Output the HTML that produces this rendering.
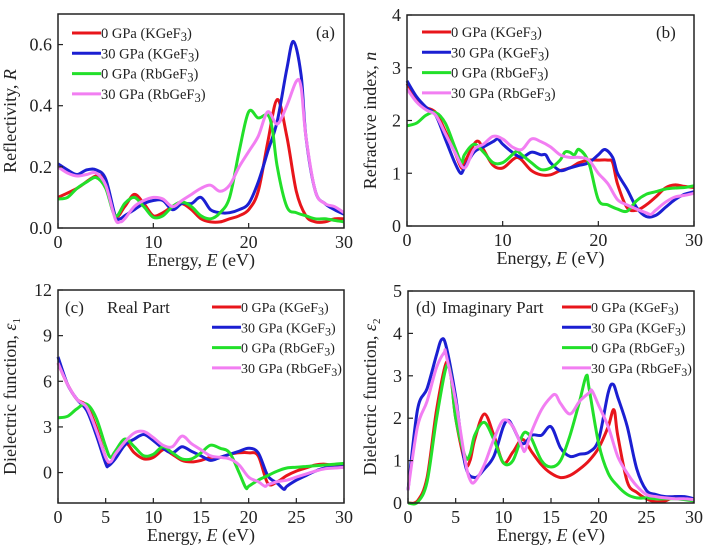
<!DOCTYPE html>
<html><head><meta charset="utf-8"><style>
body{margin:0;background:#fff;}
svg{font-family:"Liberation Serif",serif;}
</style></head><body>
<svg id="c" width="708" height="550" xmlns="http://www.w3.org/2000/svg"></svg>
<script>
const SERIES_NAMES=["0 GPa (KGeF","30 GPa (KGeF","0 GPa (RbGeF","30 GPa (RbGeF"];
const COLORS=["#e8151b","#1b1fd2","#22e02a","#f27ef2"];
// (a) Reflectivity
const aRed=[[0,.10],[2,.13],[4,.17],[5,.15],[6,.04],[7,.07],[8,.11],[9,.08],[10,.04],[11,.05],[12,.07],[13,.08],[14,.06],[15,.03],[16,.02],[17,.02],[18,.03],[19,.04],[20,.06],[21,.12],[22,.28],[23,.42],[24,.30],[25,.12],[26,.04],[27,.02],[28,.02],[29,.03],[30,.03]];
const aBlue=[[0,.21],[1,.19],[2,.175],[3,.19],[4,.19],[5,.16],[6,.04],[6.5,.03],[7,.04],[8,.06],[9,.08],[10,.09],[11,.09],[12,.06],[13,.08],[14,.08],[15,.10],[16,.06],[17,.05],[18,.05],[19,.06],[20,.08],[21,.15],[22,.25],[23,.35],[24,.52],[24.7,.61],[25.5,.50],[26,.30],[27,.12],[28,.08],[29,.06],[30,.045]];
const aGreen=[[0,.095],[1,.10],[2,.13],[3,.15],[4,.165],[5,.13],[6,.04],[7,.08],[8,.10],[9,.07],[10,.035],[11,.04],[12,.07],[13,.085],[14,.07],[15,.04],[16,.03],[17,.05],[18,.10],[19,.25],[20,.38],[21,.36],[22,.37],[22.5,.32],[23,.20],[24,.07],[25,.05],[26,.04],[27,.03],[28,.03],[29,.025],[30,.02]];
const aPink=[[0,.20],[1,.18],[2,.17],[3,.175],[4,.18],[5,.14],[6,.03],[6.5,.02],[7,.03],[8,.07],[9,.09],[10,.10],[11,.095],[12,.07],[13,.09],[14,.11],[15,.13],[16,.14],[17,.12],[18,.14],[19,.20],[20,.25],[21,.30],[22,.38],[23,.34],[24,.40],[25,.48],[25.5,.46],[26,.30],[27,.12],[28,.08],[29,.07],[30,.05]];
// (b) Refractive index
const bRed=[[0,2.7],[1,2.4],[2,2.25],[3,2.15],[4,1.8],[5,1.4],[5.7,1.1],[6,1.2],[7,1.55],[7.5,1.6],[8,1.45],[9,1.15],[10,1.1],[11,1.25],[11.5,1.3],[12,1.25],[13,1.05],[14,.97],[15,.97],[16,1.05],[17,1.1],[18,1.2],[19,1.25],[20,1.25],[21,1.25],[21.5,1.2],[22,.8],[23,.35],[24,.3],[25,.4],[26,.55],[27,.72],[28,.78],[29,.75],[30,.73]];
const bBlue=[[0,2.75],[1,2.45],[2,2.25],[3,2.1],[4,1.65],[5,1.2],[5.6,1.0],[6,1.1],[7,1.4],[8,1.5],[9,1.6],[9.5,1.65],[10,1.55],[11,1.4],[12,1.3],[13,1.4],[14,1.35],[14.5,1.35],[15,1.2],[16,1.05],[17,1.1],[18,1.15],[19,1.2],[20,1.35],[20.7,1.45],[21.5,1.3],[22,1.0],[23,.7],[24,.35],[25,.18],[26,.2],[27,.35],[28,.5],[29,.6],[30,.65]];
const bGreen=[[0,1.9],[1,1.95],[2,2.1],[3,2.15],[4,1.95],[5,1.5],[5.7,1.2],[6,1.35],[7,1.55],[8,1.4],[9,1.2],[10,1.2],[11,1.35],[11.5,1.42],[12,1.35],[13,1.2],[14,1.07],[15,1.1],[16,1.25],[16.5,1.4],[17,1.4],[17.5,1.35],[18,1.45],[19,1.2],[20,.5],[21,.4],[22,.32],[23,.28],[24,.48],[25,.6],[26,.65],[27,.7],[28,.72],[29,.73],[30,.76]];
const bPink=[[0,2.6],[1,2.35],[2,2.2],[3,2.1],[4,1.75],[5,1.4],[6,1.1],[7,1.45],[8,1.55],[9,1.7],[10,1.65],[11,1.5],[12,1.45],[13,1.65],[14,1.6],[15,1.5],[16,1.35],[17,1.3],[18,1.3],[19,1.25],[20,1.0],[21,.8],[22,.5],[23,.4],[24,.32],[25,.25],[25.5,.22],[26,.3],[27,.45],[28,.55],[29,.58],[30,.62]];
// (c) Real part
const cRed=[[0,7.2],[1,5.8],[2,4.8],[3,4.4],[4,3.0],[5,1.0],[5.5,.6],[6,1.2],[7,2.0],[8,1.3],[9,.9],[10,1.0],[11,1.5],[11.5,1.4],[12,1.2],[13,.8],[14,.7],[15,.8],[16,1.0],[17,1.0],[18,1.2],[19,1.3],[20,1.3],[21,1.1],[22,-.7],[23,-.6],[24,-.2],[25,.1],[26,.3],[27,.5],[28,.55],[29,.45],[30,.4]];
const cBlue=[[0,7.6],[1,5.8],[2,4.8],[3,4.1],[4,2.5],[5,.6],[5.3,.45],[6,.9],[7,1.8],[8,2.2],[9,2.5],[10,2.1],[11,1.6],[12,1.3],[13,1.7],[14,1.4],[15,1.1],[16,.8],[17,1.0],[18,1.2],[19,1.4],[20,1.6],[21,1.3],[22,-.2],[23,-.7],[23.7,-1.1],[24,-.9],[25,-.5],[26,-.2],[27,.1],[28,.3],[29,.35],[30,.4]];
const cGreen=[[0,3.6],[1,3.7],[2,4.2],[3,4.5],[4,3.6],[5,1.7],[5.5,1.0],[6,1.4],[7,2.2],[8,1.7],[9,1.1],[10,1.2],[11,1.7],[12,1.3],[13,.9],[14,.9],[15,1.3],[16,1.8],[17,1.6],[18,1.3],[19,0],[19.7,-1.0],[20,-.9],[21,-.5],[22,-.2],[23,.1],[24,.3],[25,.35],[26,.4],[27,.45],[28,.5],[29,.55],[30,.6]];
const cPink=[[0,7.2],[1,5.8],[2,4.8],[3,4.3],[4,2.8],[5,1.0],[5.5,.7],[6,1.2],[7,2.0],[8,2.6],[9,2.7],[10,2.3],[11,1.8],[12,1.7],[13,2.4],[14,1.9],[15,1.5],[16,1.1],[17,1.0],[18,.9],[19,.5],[20,-.3],[21,-.6],[21.7,-.9],[22,-.8],[23,-.6],[24,-.5],[25,-.3],[26,-.1],[27,.1],[28,.25],[29,.3],[30,.35]];
// (d) Imaginary part
const dRed=[[0,0],[1,.05],[2,.6],[3,2.2],[4,3.3],[4.5,3.0],[5,2.0],[6,.95],[6.5,1.0],[7,1.5],[8,2.1],[9,1.6],[10,.95],[11,1.2],[12,1.5],[13,1.2],[14,.9],[15,.7],[16,.6],[17,.65],[18,.8],[19,1.0],[20,1.3],[21,1.8],[21.6,2.2],[22,1.6],[23,.5],[24,.25],[25,.1],[26,.03],[27,.05],[28,.15],[29,.1],[30,.05]];
const dBlue=[[0,.3],[1,2.2],[2,2.7],[3,3.5],[3.5,3.85],[4,3.7],[5,2.5],[6,.9],[7,.6],[8,.8],[9,1.1],[10,1.8],[10.5,1.95],[11,1.8],[12,1.4],[13,1.6],[14,1.6],[15,1.8],[16,1.3],[17,1.1],[18,1.15],[19,1.2],[20,1.5],[21,2.6],[21.5,2.8],[22,2.5],[23,1.8],[24,.8],[25,.3],[26,.2],[27,.15],[28,.15],[29,.15],[30,.1]];
const dGreen=[[0,0],[1,.02],[2,.5],[3,2.0],[4,3.2],[4.5,3.0],[5,2.0],[6,1.1],[6.5,1.15],[7,1.6],[8,1.9],[9,1.5],[10,.95],[11,1.0],[12,1.6],[12.5,1.65],[13,1.5],[14,1.0],[15,.85],[16,1.0],[17,1.6],[18,2.4],[18.7,3.0],[19,2.7],[20,1.4],[21,.7],[22,.4],[23,.2],[24,.12],[25,.12],[26,.1],[27,.1],[28,.1],[29,.08],[30,.05]];
const dPink=[[0,.3],[1,1.8],[2,2.4],[3,3.2],[3.8,3.55],[4,3.5],[5,2.4],[6,1.0],[6.5,.55],[7,.5],[8,.9],[9,1.5],[10,1.95],[11,1.8],[12,1.3],[12.3,1.25],[13,1.7],[14,2.2],[15,2.5],[15.5,2.55],[16,2.35],[17,2.1],[18,2.4],[19,2.6],[19.3,2.65],[20,2.3],[21,1.8],[22,1.1],[23,.7],[24,.4],[25,.2],[26,.15],[27,.12],[28,.1],[29,.1],[30,.08]];
const xTicksAB=[0,10,20,30];
const xTicksCD=[0,5,10,15,20,25,30];
const aYTicks=[0,0.2,0.4,0.6];
const bYTicks=[0,1,2,3,4];
const cYTicks=[0,3,6,9,12];
const dYTicks=[0,1,2,3,4,5];

const NS="http://www.w3.org/2000/svg";
const svg=document.getElementById('c');
function mk(tag,attrs,parent){const e=document.createElementNS(NS,tag);for(const k in attrs)e.setAttribute(k,attrs[k]);(parent||svg).appendChild(e);return e;}
function pathD(pts){let d="M"+pts[0][0].toFixed(1)+","+pts[0][1].toFixed(1);
 for(let i=0;i<pts.length-1;i++){const p0=pts[i-1]||pts[i],p1=pts[i],p2=pts[i+1],p3=pts[i+2]||p2;
 const c1=[p1[0]+(p2[0]-p0[0])/6,p1[1]+(p2[1]-p0[1])/6],c2=[p2[0]-(p3[0]-p1[0])/6,p2[1]-(p3[1]-p1[1])/6];
 d+=" C"+c1[0].toFixed(1)+","+c1[1].toFixed(1)+" "+c2[0].toFixed(1)+","+c2[1].toFixed(1)+" "+p2[0].toFixed(1)+","+p2[1].toFixed(1);}
 return d;}
function panel(p){
 const g=mk('g',{});
 
 
 const xs=v=>p.L+(v-0)/30*(p.R-p.L), ys=v=>p.B-(v-p.ymin)/(p.ymax-p.ymin)*(p.B-p.T);
 p.series.forEach((s,i)=>{
  const pa=mk('path',{d:pathD(s.map(q=>[xs(q[0]),ys(q[1])])),fill:'none',stroke:COLORS[i],'stroke-width':3,'stroke-linejoin':'round'},g);
  
  
 });
 const fr=mk('rect',{x:p.L,y:p.T,width:p.R-p.L,height:p.B-p.T,fill:'none',stroke:'#222','stroke-width':1.5},g);
 
 
 p.xt.forEach(v=>{const x=xs(v);mk('line',{x1:x,x2:x,y1:p.B,y2:p.B-5,stroke:'#222','stroke-width':1.2},g);
  const t=mk('text',{x:x,y:p.B+20,'text-anchor':'middle','font-size':18,fill:'#222'},g);t.textContent=v;
  
  });
 p.yt.forEach(v=>{const y=ys(v);mk('line',{x1:p.L,x2:p.L+5,y1:y,y2:y,stroke:'#222','stroke-width':1.2},g);
  const t=mk('text',{x:p.L-6,y:y+6,'text-anchor':'end','font-size':18,fill:'#222'},g);t.textContent=p.fmt(v);
  
  });
 const xt=mk('text',{x:(p.L+p.R)/2,y:p.B+38,'text-anchor':'middle','font-size':18,fill:'#222'},g);
 xt.innerHTML='Energy, <tspan font-style="italic">E</tspan> (eV)';
 
 
 const yt=mk('text',{x:0,y:0,'text-anchor':'middle','font-size':18,fill:'#222',transform:`translate(${p.ylx},${(p.T+p.B)/2}) rotate(-90)`},g);
 yt.innerHTML=p.ylab;
 
 
 SERIES_NAMES.forEach((n,i)=>{const y=p.legY+i*20.3;
  const ln=mk('line',{x1:p.legX,x2:p.legX+29,y1:y,y2:y,stroke:COLORS[i],'stroke-width':3},g);
  
  
  const t=mk('text',{x:p.legX+29,y:y+5,'font-size':p.lfs,fill:'#222'},g);
  t.innerHTML=n+'<tspan font-size="'+(p.lfs-2)+'" dy="3">3</tspan><tspan dy="-3">)</tspan>';
  
  });
 p.notes.forEach(nn=>{const t=mk('text',{x:nn[0],y:nn[1],'font-size':17,fill:'#222','xml:space':'preserve'},g);t.textContent=nn[2];
  
  });
}
panel({id:'a',L:58,R:344,T:14,B:228,ymin:0,ymax:0.7,xt:xTicksAB,yt:aYTicks,fmt:v=>v.toFixed(1),series:[aRed,aBlue,aGreen,aPink],ylx:16,ylab:'Reflectivity, <tspan font-style="italic">R</tspan>',legX:72,legY:33,lfs:14.5,notes:[[316,38,'(a)']]});
panel({id:'b',L:407,R:694,T:15,B:226,ymin:0,ymax:4,xt:xTicksAB,yt:bYTicks,fmt:v=>v,series:[bRed,bBlue,bGreen,bPink],ylx:376,ylab:'Refractive index, <tspan font-style="italic">n</tspan>',legX:422,legY:32,lfs:14.5,notes:[[656,38,'(b)']]});
panel({id:'c',L:58,R:344,T:290,B:503,ymin:-2,ymax:12,xt:xTicksCD,yt:cYTicks,fmt:v=>v,series:[cRed,cBlue,cGreen,cPink],ylx:16,ylab:'Dielectric function, <tspan font-style="italic">ε</tspan><tspan font-size="11" dy="4">1</tspan>',legX:212,legY:307,lfs:14,notes:[[65,313,'(c)'],[107,313,'Real Part']]});
panel({id:'d',L:408,R:694,T:291,B:503,ymin:0,ymax:5,xt:xTicksCD,yt:dYTicks,fmt:v=>v,series:[dRed,dBlue,dGreen,dPink],ylx:376,ylab:'Dielectric function, <tspan font-style="italic">ε</tspan><tspan font-size="11" dy="4">2</tspan>',legX:562,legY:307,lfs:14,notes:[[416,313,'(d)'],[442,313,'Imaginary  Part']]});
</script>
</body></html>
